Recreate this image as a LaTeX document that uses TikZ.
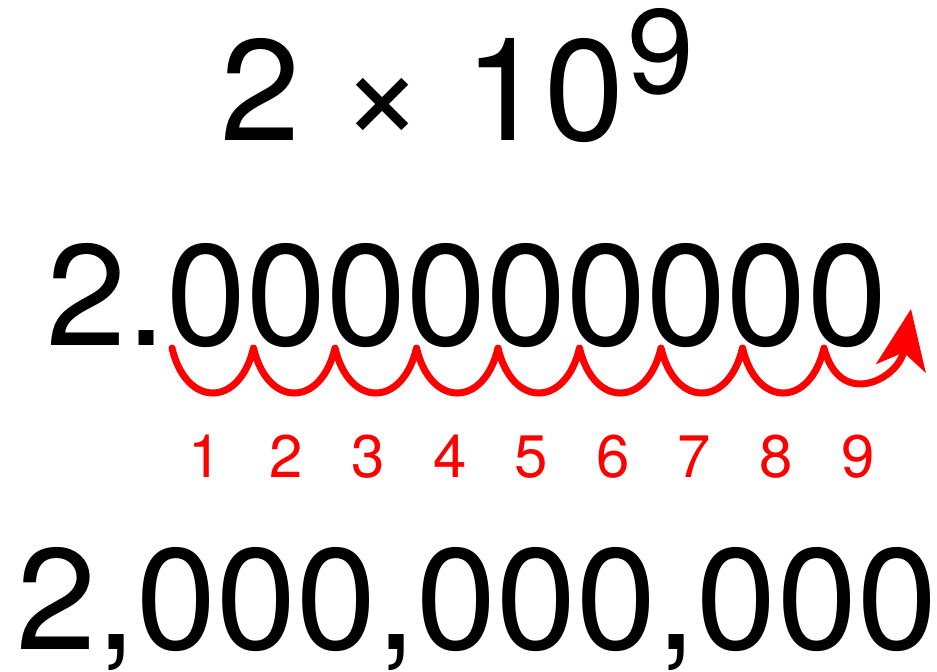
\documentclass[tikz,border=0pt]{standalone}
\usepackage{fontspec}
\setmainfont{TeX Gyre Heros}
\usetikzlibrary{arrows.meta}

\begin{document}
\begin{tikzpicture}[x=0.5pt, y=-0.5pt, every node/.style={inner sep=0pt, anchor=base west},
	digits/.style={font=\fontsize{72}{72}\selectfont},
	countnum/.style={anchor=base, text=red, font=\fontsize{30}{30}\selectfont},
	hop/.style={draw=red, line width=3.5pt, line cap=round, line join=round}]
	\useasboundingbox (0,0) rectangle (937,671);
	% the three ways of writing the number
	\node[digits] (sci) at (220,140) {2 × 10};
	\node[font=\fontsize{60}{60}\selectfont] (expo) at (627,93) {9};
	\node[digits] (dec) at (46,345) {2.000000000};
	\node[digits] (full) at (16,649) {2,000,000,000};
	% hops of the decimal point
	\foreach \i in {0,...,8} \coordinate (h\i) at ({172+81.5*\i},348);
	\coordinate (tip) at (911,309);
	\foreach \i in {1,...,9} \node[countnum] (n\i) at ({205+81.6*(\i-1)},477) {\i};
	\draw[hop, -{Stealth[length=30pt,width=25pt,inset=8pt]}] (h0)
		\foreach \i in {1,...,8} { .. controls +(14,60) and +(-14,60) .. (h\i) }
		.. controls +(16,62) and +(-12,70) .. (tip);
\end{tikzpicture}
\end{document}
